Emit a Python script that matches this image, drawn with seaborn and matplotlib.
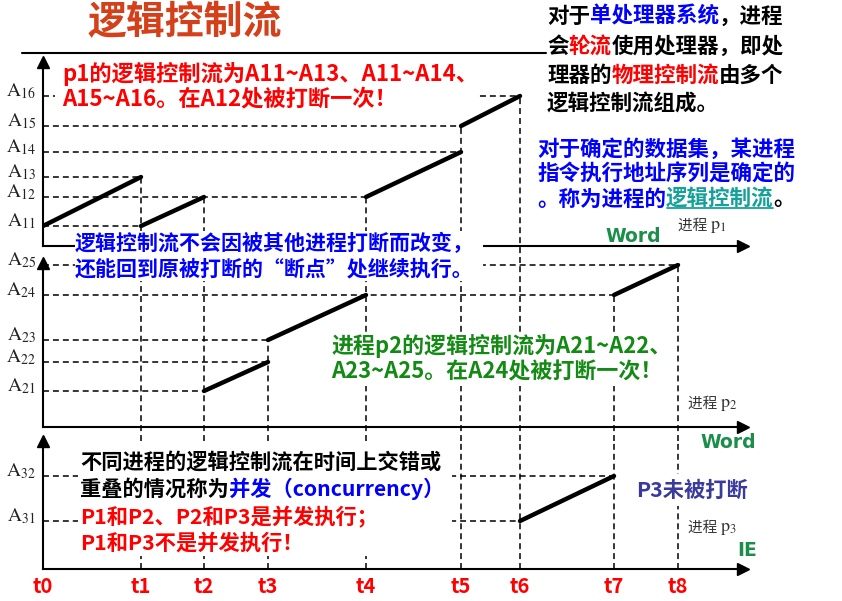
import matplotlib
matplotlib.use("Agg")
import matplotlib.pyplot as plt
import seaborn as sns
import pandas as pd
from matplotlib.lines import Line2D
from matplotlib.patches import Rectangle
from matplotlib.text import Annotation

# ---------------- data ----------------
time_labels = ['t0', 't1', 't2', 't3', 't4', 't5', 't6', 't7', 't8']
time_pos = [0.0, 0.98, 1.61, 2.25, 3.23, 4.18, 4.77, 5.71, 6.35]

p1_names = ['A11', 'A12', 'A13', 'A14', 'A15', 'A16']
p1_levels = [20, 49, 69, 94, 120, 150]
p2_names = ['A21', 'A22', 'A23', 'A24', 'A25']
p2_levels = [36, 65, 87, 132, 162]
p3_names = ['A31', 'A32']
p3_levels = [48, 93]

# execution segments: (start time, end time, start address, end address)
p1_segments = [('t0', 't1', 'A11', 'A13'), ('t1', 't2', 'A11', 'A12'),
               ('t4', 't5', 'A12', 'A14'), ('t5', 't6', 'A15', 'A16')]
p2_segments = [('t2', 't3', 'A21', 'A22'), ('t3', 't4', 'A23', 'A24'),
               ('t7', 't8', 'A24', 'A25')]
p3_segments = [('t6', 't7', 'A31', 'A32')]

# horizontal dashed guides: address -> time where the guide ends
p1_guides = {'A16': 't6', 'A15': 't5', 'A14': 't5', 'A13': 't1', 'A12': 't4', 'A11': 't1'}
p2_guides = {'A25': 't8', 'A24': 't7', 'A23': 't3', 'A22': 't3', 'A21': 't2'}
p3_guides = {'A32': 't7', 'A31': 't6'}

# vertical dashed guides: time -> (panel where it starts, address where it starts)
v_guides = {'t1': (0, 'A13'), 't2': (0, 'A12'), 't3': (1, 'A23'), 't4': (0, 'A12'),
            't5': (0, 'A15'), 't6': (0, 'A16'), 't7': (1, 'A24'), 't8': (1, 'A25')}

panel_names = [p1_names, p2_names, p3_names]
panel_levels = [p1_levels, p2_levels, p3_levels]
panel_segments = [p1_segments, p2_segments, p3_segments]
panel_guides = [p1_guides, p2_guides, p3_guides]
panel_tags = ['1', '2', '3']
panel_apps = ['Word', 'Word', 'IE']

# ---------------- style ----------------
sns.set_theme(style='white')
plt.rcParams['font.family'] = ['Noto Sans CJK SC', 'DejaVu Sans']
plt.rcParams['mathtext.fontset'] = 'stix'
plt.rcParams['axes.unicode_minus'] = False

W, H = 842, 601
fig = plt.figure(figsize=(W / 100, H / 100), dpi=100)
fig.patch.set_facecolor('white')

# panel layout (pixels): top, bottom
panel_px = [(62, 246), (263, 427), (441, 569)]
gaps = [17, 14, 0]
X0, X1 = 43, 743
XMAX = 7.0
DASH = (0, (3.9, 2.6))
tmap = dict(zip(time_labels, time_pos))

axes = []
for i, (top, bot) in enumerate(panel_px):
    ax = fig.add_axes([X0 / W, 1 - bot / H, (X1 - X0) / W, (bot - top) / H])
    ax.patch.set_visible(False)
    ytop = bot - top
    ax.set_xlim(0, XMAX)
    ax.set_ylim(0, ytop)
    lev = dict(zip(panel_names[i], panel_levels[i]))

    # horizontal guides
    for a, t in panel_guides[i].items():
        ax.hlines(lev[a], 0, tmap[t], colors='black', linestyles=DASH, lw=1.1)

    # vertical guides
    for t, (p0, a0) in v_guides.items():
        if i < p0:
            continue
        y_hi = dict(zip(panel_names[p0], panel_levels[p0]))[a0] if i == p0 else ytop
        ax.vlines(tmap[t], -gaps[i], y_hi, colors='black', linestyles=DASH, lw=1.1,
                  clip_on=False)

    # execution segments
    rows = []
    for k, (ts, te, a_s, a_e) in enumerate(panel_segments[i]):
        rows.append({'seg': k, 't': tmap[ts], 'addr': lev[a_s]})
        rows.append({'seg': k, 't': tmap[te], 'addr': lev[a_e]})
    df = pd.DataFrame(rows)
    sns.lineplot(data=df, x='t', y='addr', units='seg', estimator=None, sort=False,
                 color='black', lw=3.2, ax=ax, legend=False)
    ax.set_xlabel('')
    ax.set_ylabel('')

    # axes look
    sns.despine(ax=ax)
    for s in ['left', 'bottom']:
        ax.spines[s].set_linewidth(1.5)
        ax.spines[s].set_color('black')
    ax.plot(1, 0, marker='>', color='black', ms=8, transform=ax.transAxes, clip_on=False)
    ax.plot(0, 1, marker='^', color='black', ms=8, transform=ax.transAxes, clip_on=False)

    ax.set_yticks(panel_levels[i],
                  labels=[r'$\mathrm{A}_{%s}$' % n[1:] for n in panel_names[i]])
    ax.tick_params(axis='y', length=0, pad=5, labelsize=14, colors='#222222')
    for lab in ax.get_yticklabels():
        lab.set_va('baseline')
    if i < 2:
        ax.set_xticks([])
    else:
        ax.set_xticks(time_pos, labels=time_labels)
        ax.tick_params(axis='x', length=0, pad=5, labelsize=14.5, colors='#FF0000')
        for lab in ax.get_xticklabels():
            lab.set_fontweight('bold')
    axes.append(ax)


# ---------------- text helpers ----------------
def fpx(x, y):
    return (x / W, 1 - y / H)


def white_box(x0, y0, x1, y1):
    fig.add_artist(Rectangle(fpx(x0, y1), (x1 - x0) / W, (y1 - y0) / H,
                             transform=fig.transFigure, facecolor='white',
                             edgecolor='none', zorder=2))


def rich_line(x, y, parts, size=15.5, weight='bold', family=None):
    arts = []
    prev = None
    for p in parts:
        s, c = p[0], p[1]
        sz = p[2] if len(p) > 2 else size
        kw = dict(fontsize=sz, color=c, fontweight=weight, va='center', ha='left', zorder=3)
        if family:
            kw['family'] = family
        if prev is None:
            t = fig.text(*fpx(x, y), s, **kw)
        else:
            t = Annotation(s, xy=(1, 0.5), xycoords=prev, **kw)
            fig.add_artist(t)
        arts.append(t)
        prev = t
    return arts


RED = '#FF0000'
BLUE = '#0000FF'
BLACK = '#000000'
GREEN = '#138A13'
TEAL = '#17A09A'

# title and rule
fig.text(*fpx(88, 23), '逻辑控制流', fontsize=28, fontweight='bold', color='#D4401A',
         va='center', ha='left')
fig.add_artist(Line2D([22 / W, 546 / W], [1 - 53 / H, 1 - 53 / H], color='black', lw=1.5,
                      transform=fig.transFigure))

# red p1 block
white_box(55, 62, 478, 111)
rich_line(62, 74, [('p1的逻辑控制流为A11~A13、A11~A14、', RED)], size=16)
rich_line(62, 99, [('A15~A16。在A12处被打断一次！', RED)], size=16)

# top-right black block
rich_line(547, 16, [('对于', BLACK), ('单处理器系统', BLUE), ('，进程', BLACK)])
rich_line(547, 46, [('会', BLACK), ('轮流', RED), ('使用处理器，即处', BLACK)])
rich_line(547, 75, [('理器的', BLACK), ('物理控制流', RED), ('由多个', BLACK)])
rich_line(547, 104, [('逻辑控制流组成。', BLACK)])

# blue definition block
rich_line(537, 149, [('对于确定的数据集，某进程', BLUE)])
rich_line(537, 174, [('指令执行地址序列是确定的', BLUE)])
u_parts = rich_line(537, 199, [('。称为进程的', BLUE), ('逻辑控制流', TEAL), ('。', BLACK)])

# blue panel text
white_box(75, 231, 483, 281)
rich_line(75, 243, [('逻辑控制流不会因被其他进程打断而改变，', BLUE)], size=15.1)
rich_line(75, 269, [('还能回到原被打断的“断点”处继续执行。', BLUE)], size=15.1)

# green text
white_box(326, 334, 668, 386)
rich_line(331, 346, [('进程p2的逻辑控制流为A21~A22、', GREEN)], size=15.8)
rich_line(331, 372, [('A23~A25。在A24处被打断一次！', GREEN)], size=15.8)

# panel 3 text
white_box(78, 443, 452, 556)
rich_line(80, 462, [('不同进程的逻辑控制流在时间上交错或', BLACK)], size=15.3)
rich_line(80, 489, [('重叠的情况称为', BLACK), ('并发（concurrency）', BLUE)], size=15.3)
rich_line(80, 517, [('P1和P2、P2和P3是并发执行；', RED)], size=15.3)
rich_line(80, 543, [('P1和P3不是并发执行！', RED)], size=15.3)

white_box(632, 474, 752, 506)
rich_line(636, 490, [('P3未被打断', '#3A3A9C')], size=15.3)

# process / application labels
label_px = [(678, 226), (688, 404), (688, 528)]
app_px = [(605, 236), (700, 442), (737, 551)]
for i in range(3):
    x, y = label_px[i]
    rich_line(x, y, [('进程 ', '#333333', 10.5), (r'$\mathrm{p}_{%s}$' % panel_tags[i], '#333333', 13)],
              weight='normal')
    x, y = app_px[i]
    fig.text(*fpx(x, y), panel_apps[i], fontsize=13.5, fontweight='bold', color='#1B8E4B',
             family='DejaVu Sans', va='center', ha='left')

# underline for the teal term
fig.canvas.draw()
r = fig.canvas.get_renderer()
bb = u_parts[1].get_window_extent(r)
inv = fig.transFigure.inverted()
(x0, y0), (x1, _) = inv.transform([(bb.x0 + 1, bb.y0 + 2), (bb.x1 - 1, bb.y0 + 2)])
fig.add_artist(Line2D([x0, x1], [y0, y0], color=TEAL, lw=1.3, transform=fig.transFigure))

fig.savefig('out.png', dpi=100, facecolor='white')
